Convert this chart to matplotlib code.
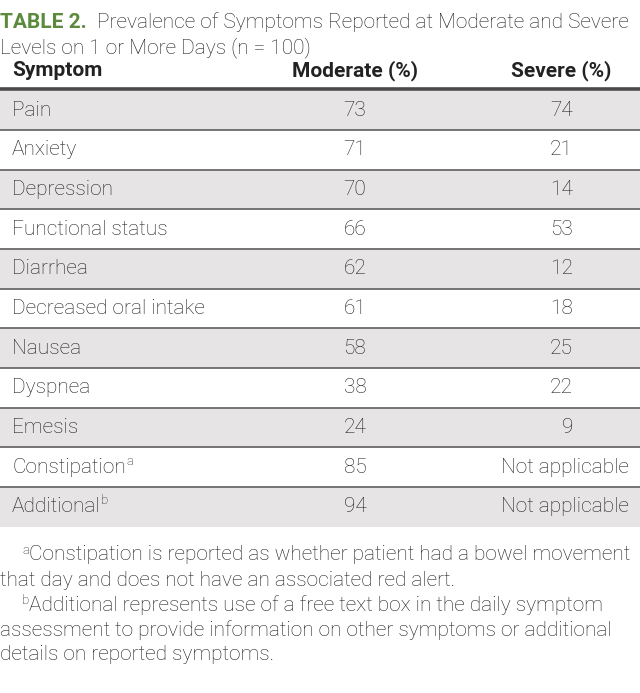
import matplotlib
matplotlib.use("Agg")
import matplotlib.pyplot as plt

plt.rcParams['font.family'] = ['Roboto', 'DejaVu Sans']

title_tag = "TABLE 2."
title_text = "Prevalence of Symptoms Reported at Moderate and Severe"
title_text2 = "Levels on 1 or More Days (n = 100)"
headers = ["Symptom", "Moderate (%)", "Severe (%)"]
symptoms = ["Pain", "Anxiety", "Depression", "Functional status", "Diarrhea",
            "Decreased oral intake", "Nausea", "Dyspnea", "Emesis",
            "Constipation", "Additional"]
sup_marks = ["", "", "", "", "", "", "", "", "", "a", "b"]
moderate = ["73", "71", "70", "66", "62", "61", "58", "38", "24", "85", "94"]
severe = ["74", "21", "14", "53", "12", "18", "25", "22", "9", "Not applicable", "Not applicable"]
footnotes = [
    ("a", "Constipation is reported as whether patient had a bowel movement"),
    ("", "that day and does not have an associated red alert."),
    ("b", "Additional represents use of a free text box in the daily symptom"),
    ("", "assessment to provide information on other symptoms or additional"),
    ("", "details on reported symptoms."),
]

W, H = 640, 693
fig = plt.figure(figsize=(W / 100, H / 100), dpi=100)
ax = fig.add_axes([0, 0, 1, 1])
ax.set_xlim(0, W)
ax.set_ylim(H, 0)
ax.axis('off')

TXT = '#1e1e1e'
GREEN = '#5b8a3c'
FS = 15
WT = 'light'

# title
ax.text(0, 22, title_tag, color=GREEN, fontsize=FS, fontweight='bold', va='center', ha='left')
ax.text(97, 22, title_text, color=TXT, fontsize=FS, fontweight=WT, va='center', ha='left')
ax.text(0, 48, title_text2, color=TXT, fontsize=FS, fontweight=WT, va='center', ha='left')

# header
hy = 71
ax.text(12, hy, headers[0], color='#222222', fontsize=FS, fontweight='bold', va='center', ha='left')
ax.text(355, hy, headers[1], color='#222222', fontsize=FS, fontweight='bold', va='center', ha='center')
ax.text(561, hy, headers[2], color='#222222', fontsize=FS, fontweight='bold', va='center', ha='center')

top = 90.5
rh = 39.65
fig.canvas.draw()
renderer = fig.canvas.get_renderer()
for i, (s, sm, m, v) in enumerate(zip(symptoms, sup_marks, moderate, severe)):
    y0 = top + i * rh
    y1 = y0 + rh
    if i % 2 == 0:
        ax.axhspan(y0, y1, color='#e6e4e4', lw=0, zorder=0)
    yc = (y0 + y1) / 2
    t = ax.text(12, yc, s, color=TXT, fontsize=FS, fontweight=WT, va='center', ha='left')
    if sm:
        bb = t.get_window_extent(renderer)
        xe = bb.x1  # pixels == data units here
        ax.text(xe + 0.5, yc - 6, sm, color=TXT, fontsize=9.5, fontweight=WT, va='center', ha='left')
    ax.text(355, yc, m, color=TXT, fontsize=FS, fontweight=WT, va='center', ha='center')
    if v.isdigit():
        ax.text(573, yc, v, color=TXT, fontsize=FS, fontweight=WT, va='center', ha='right')
    else:
        ax.text(629, yc, v, color=TXT, fontsize=FS, fontweight=WT, va='center', ha='right')
    if i < len(symptoms) - 1:
        ax.axhline(y1, color='#6a6a6a', lw=1.3, zorder=2)

ax.axhline(top - 1.5, color='#4a4a4a', lw=2.6, zorder=3)

# footnotes
fy = [555, 580, 605, 630, 655]
for (sup, txt), y in zip(footnotes, fy):
    x = 0
    if sup:
        ax.text(22, y - 5, sup, color=TXT, fontsize=9.5, fontweight=WT, va='center', ha='left')
        x = 29
    ax.text(x, y, txt, color=TXT, fontsize=FS, fontweight=WT, va='center', ha='left')

fig.savefig('out.png', dpi=100, facecolor='white')
